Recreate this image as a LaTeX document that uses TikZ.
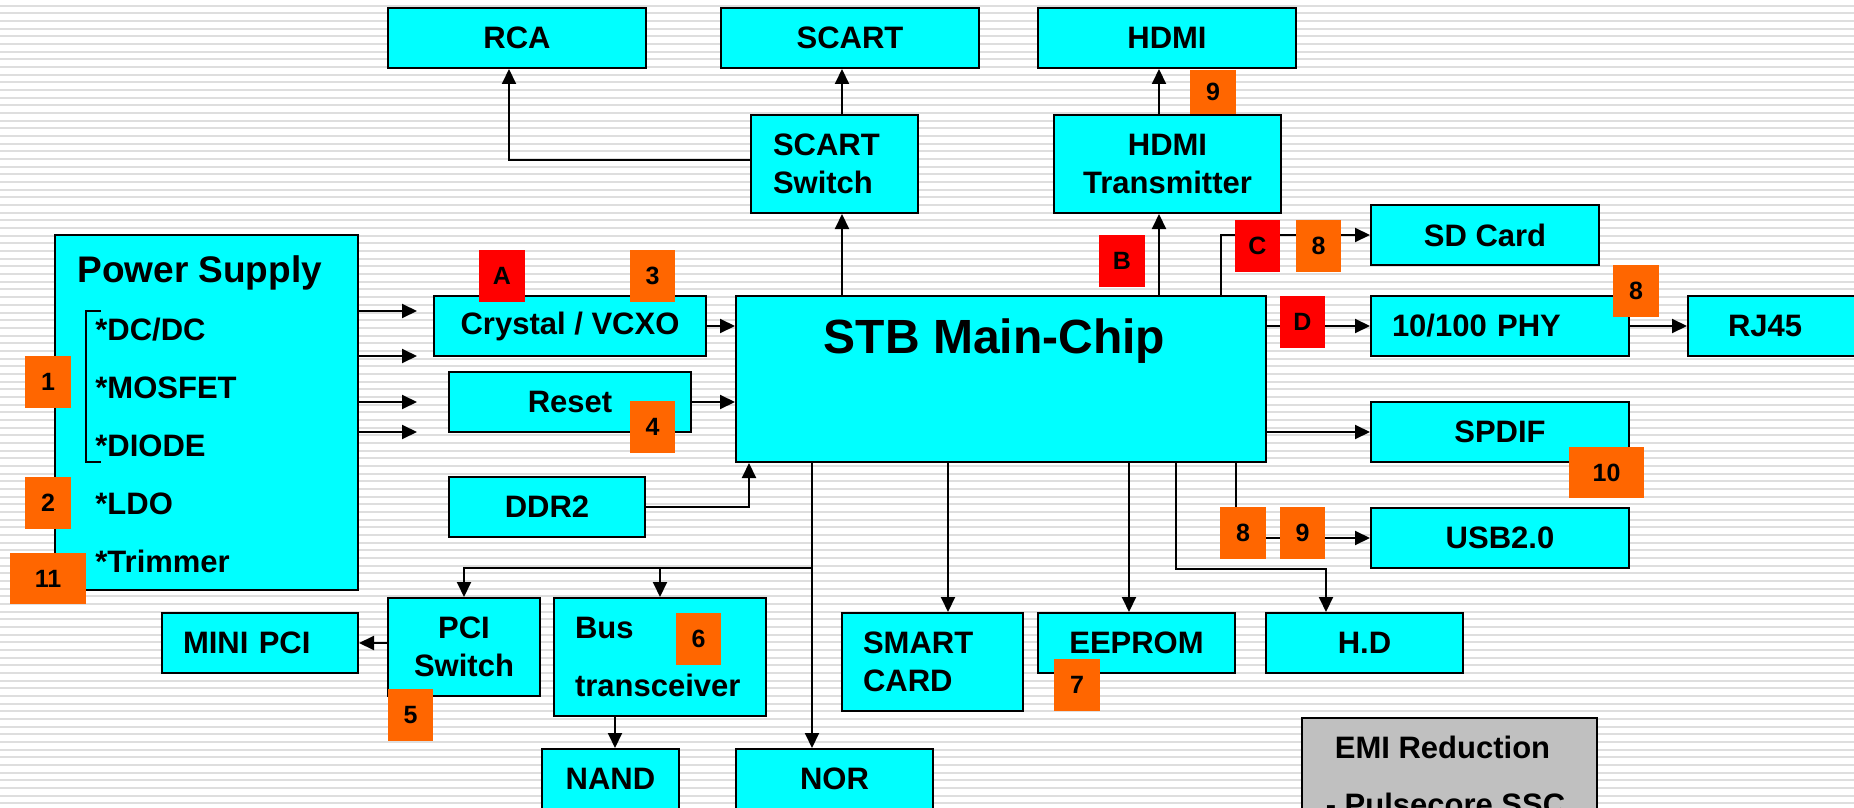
\documentclass[tikz,border=0pt]{standalone}
\usepackage{fontspec}
\setmainfont{Liberation Sans}
\usetikzlibrary{arrows.meta,calc,positioning}
\definecolor{aquacyan}{RGB}{0,255,255}
\definecolor{safetyorange}{RGB}{255,102,0}
\definecolor{signalred}{RGB}{255,0,0}
\definecolor{silvergray}{RGB}{192,192,192}
\definecolor{stripegray}{RGB}{222,222,222}
\tikzset{
  block/.style={
    draw=black,
    line width=1pt,
    fill=aquacyan,
    align=center,
    inner sep=0pt,
    font=\bfseries\fontsize{15.5}{19}\selectfont
  },
  boxsize/.style 2 args={
    minimum width=#1*0.5pt,
    minimum height=#2*0.5pt
  },
  emibox/.style={
    block,
    fill=silvergray
  },
  badge/.style={
    inner sep=0pt,
    font=\bfseries\fontsize{12.5}{15}\selectfont
  },
  caption/.style={
    inner sep=0pt,
    font=\bfseries\fontsize{15.5}{19}\selectfont
  },
  pstitle/.style={
    inner sep=0pt,
    font=\bfseries\fontsize{18.5}{22}\selectfont
  },
  chiptitle/.style={
    inner sep=0pt,
    font=\bfseries\fontsize{24}{28}\selectfont
  },
  arrow/.style={
    -{Triangle[length=7.5pt,width=7pt]},
    line width=1pt,
    black
  },
  stripe/.style={
    line width=1pt,
    stripegray
  }
}

\begin{document}
\begin{tikzpicture}[x=0.5pt,y=-0.5pt]
\useasboundingbox (0,0) rectangle (1854,808);
\clip (0,0) rectangle (1854,808);
% lined background
\fill[white] (0,0) rectangle (1854,808);
\foreach \k in {0,...,105}
  \draw[stripe] (0,{5.7+7.67*\k}) -- (1854,{5.7+7.67*\k});

% video outputs
\node[block, boxsize={258}{60}] (rca) at (517,38) {RCA};
\node[block, boxsize={258}{60}] (scart) at (850,38) {SCART};
\node[block, boxsize={258}{60}] (hdmi) at (1167,38) {HDMI};
\node[block, boxsize={167}{98}, text width=61.5pt, align=left] (scartsw) at (834.5,164) {SCART\\Switch};
\node[block, boxsize={227}{98}] (hdmitx) at (1167.5,164) {HDMI\\Transmitter};

% power and clocks
\node[block, boxsize={303}{355}] (power) at (206.5,412.5) {};
\node[block, boxsize={272}{60}] (crystal) at (570,326) {Crystal / VCXO};
\node[block, boxsize={242}{60}] (reset) at (570,402) {Reset};
\node[block, boxsize={196}{60}] (ddr) at (547,507) {DDR2};

% main chip
\node[block, boxsize={530}{166}] (chip) at (1001,379) {};
\node[chiptitle, anchor=base] (chiplabel) at (994.5,353) {STB Main-Chip};

% right side
\node[block, boxsize={228}{60}] (sd) at (1485,235) {SD Card};
\node[block, boxsize={258}{60}, text width=108pt, align=left] (phy) at (1500,326) {10/100 PHY};
\node[block, boxsize={258}{60}, text width=89pt, align=left] (rj) at (1817,326) {RJ45};
\node[block, boxsize={258}{60}] (spdif) at (1500,432) {SPDIF};
\node[block, boxsize={258}{60}] (usb) at (1500,538) {USB2.0};

% bottom row
\node[block, boxsize={196}{60}, text width=77pt, align=left] (minipci) at (260,643) {MINI PCI};
\node[block, boxsize={152}{98}] (pcisw) at (464,647) {PCI\\Switch};
\node[block, boxsize={212}{118}, text width=85pt, align=left] (bus) at (660,657) {Bus\\[10pt]transceiver};
\node[block, boxsize={137}{60}] (nand) at (610.5,779) {NAND};
\node[block, boxsize={197}{60}] (nor) at (834.5,779) {NOR};
\node[block, boxsize={181}{98}, text width=69.5pt, align=left] (smart) at (932.5,662) {SMART\\CARD};
\node[block, boxsize={197}{60}] (eeprom) at (1136.5,643) {EEPROM};
\node[block, boxsize={197}{60}] (hd) at (1364.5,643) {H.D};
\node[emibox, boxsize={295}{200}, anchor=north] (emi) at (1449.5,717) {};
\node[caption, anchor=base] (emititle) at (1442.5,758) {EMI Reduction};
\node[caption, anchor=base] (emissc) at (1445.5,815) {- Pulsecore SSC};

% power supply list
\node[pstitle, anchor=base west] (pslabel) at (77,282) {Power Supply};
\foreach \t [count=\i from 0] in {{*DC/DC},{*MOSFET},{*DIODE},{*LDO},{*Trimmer}}
  \node[caption, anchor=base west] (psitem\i) at (95,{340+58*\i}) {\t};
\draw[line width=0.9pt] (101,311) -- (86,311) -- (86,462) -- (101,462);
\foreach \y [count=\i] in {311,356,402,432} {
  \coordinate (pwr\i) at (417,\y);
  \draw[arrow] (power.east |- pwr\i) -- (pwr\i);
}

% connectors
\draw[arrow] ([yshift=2pt]scartsw.west) -| ([xshift=-4pt]rca.south);
\draw[arrow] ([xshift=3.75pt]scartsw.north) -- ([xshift=3.75pt]scartsw.north |- scart.south);
\draw[arrow] ([xshift=3.75pt]chip.north -| scartsw.south) -- ([xshift=3.75pt]scartsw.south);
\draw[arrow] ([xshift=-4.25pt]hdmitx.north) -- ([xshift=-4.25pt]hdmitx.north |- hdmi.south);
\draw[arrow] ([xshift=-4.25pt]chip.north -| hdmitx.south) -- ([xshift=-4.25pt]hdmitx.south);
\draw[arrow] (crystal.east) -- (crystal.east -| chip.west);
\draw[arrow] (reset.east) -- (reset.east -| chip.west);
\draw[arrow] (ddr.east) -| ([xshift=7pt]chip.south west);
\draw[arrow] ([xshift=-23pt]chip.north east) |- (sd.west);
\draw[arrow] (chip.east |- phy.west) -- (phy.west);
\draw[arrow] (phy.east) -- (rj.west);
\draw[arrow] (chip.east |- spdif.west) -- (spdif.west);
\draw[arrow] ([xshift=-15.5pt]chip.south east) |- (usb.west);
\draw[arrow] ([xshift=-45.5pt]chip.south east) -- ++(0,106) -| ([xshift=-19.25pt]hd.north);
\draw[arrow] ([xshift=-3.75pt]chip.south -| eeprom.north) -- ([xshift=-3.75pt]eeprom.north);
\draw[arrow] ([xshift=7.75pt]chip.south -| smart.north) -- ([xshift=7.75pt]smart.north);
\draw[arrow] ([xshift=-11.25pt]chip.south -| nor.north) -- ([xshift=-11.25pt]nor.north);
\coordinate (split) at (812,568);
\draw[arrow] (split) -| (pcisw.north);
\draw[arrow] (split) -| (bus.north);
\draw[arrow] (pcisw.west |- minipci.east) -- (minipci.east);
\draw[arrow] ([xshift=2.25pt]bus.south -| nand.north) -- ([xshift=2.25pt]nand.north);

% test point badges
\foreach \n/\x/\y/\w/\h/\c/\t in {
  bA/502/276/46/52/signalred/A, b3/652.5/276/45/52/safetyorange/3,
  bB/1122/261/46/52/signalred/B, bC/1257.5/246/45/52/signalred/C,
  bEightsd/1318.5/246/45/52/safetyorange/8, bNinehdmi/1213/92/46/44/safetyorange/9,
  bD/1302.5/322/45/52/signalred/D, bEightphy/1636/291/46/52/safetyorange/8,
  bTen/1606.5/472.5/75/51/safetyorange/10, bEightusb/1243/533/46/52/safetyorange/8,
  bNineusb/1302.5/533/45/52/safetyorange/9, b7/1077/685/46/52/safetyorange/7,
  b6/698.5/639/45/52/safetyorange/6, b5/410.5/715/45/52/safetyorange/5,
  b4/652.5/427/45/52/safetyorange/4, b1/48/382/46/52/safetyorange/1,
  b2/48/503/46/52/safetyorange/2, bEleven/48/578.5/76/51/safetyorange/11}
  \node[badge, fill=\c, boxsize={\w}{\h}] (\n) at (\x,\y) {\t};
\end{tikzpicture}
\end{document}
